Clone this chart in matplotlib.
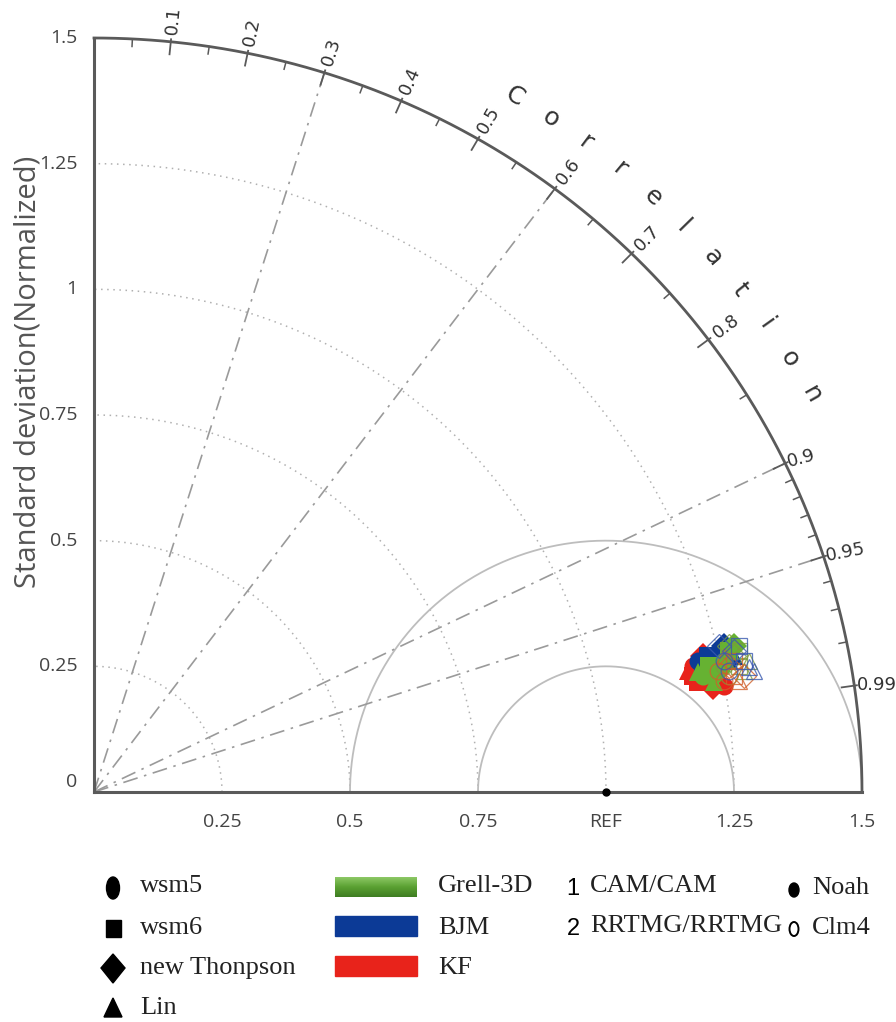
import numpy as np
import matplotlib
matplotlib.use("Agg")
import matplotlib.pyplot as plt
from matplotlib.patches import Ellipse, Rectangle, Polygon
from matplotlib.colors import LinearSegmentedColormap

# ---------------- data ----------------
std_grid = [0.25, 0.5, 0.75, 1.0, 1.25]
x_tick_vals = [0.25, 0.5, 0.75, 1.0, 1.25, 1.5]
x_tick_labels = ["0.25", "0.5", "0.75", "REF", "1.25", "1.5"]
y_tick_vals = [0, 0.25, 0.5, 0.75, 1.0, 1.25, 1.5]
y_tick_labels = ["0", "0.25", "0.5", "0.75", "1", "1.25", "1.5"]
corr_major = [0.1, 0.2, 0.3, 0.4, 0.5, 0.6, 0.7, 0.8, 0.9, 0.95, 0.99]
corr_major_labels = ["0.1", "0.2", "0.3", "0.4", "0.5", "0.6", "0.7", "0.8", "0.9", "0.95", "0.99"]
corr_minor = [0.05, 0.15, 0.25, 0.35, 0.45, 0.55, 0.65, 0.75, 0.85,
              0.91, 0.92, 0.93, 0.94, 0.96, 0.97, 0.98]
corr_lines = [0.3, 0.6, 0.9, 0.95]
rms_arcs = [0.25, 0.5]
ref_std = 1.0

microphysics = ["wsm5", "wsm6", "new Thonpson", "Lin"]
cumulus = ["Grell-3D", "BJM", "KF"]
radiation = ["CAM/CAM", "RRTMG/RRTMG"]
land = ["Noah", "Clm4"]

# each list: 4 microphysics x 2 radiation (index = rad*4 + mp)
std_grell_noah = [1.212, 1.226, 1.243, 1.230, 1.257, 1.271, 1.283, 1.204]
corr_grell_noah = [0.9818, 0.9790, 0.9812, 0.9839, 0.9784, 0.9755, 0.9741, 0.9800]
std_kf_noah = [1.196, 1.192, 1.220, 1.252, 1.248, 1.200, 1.228, 1.185]
corr_kf_noah = [0.9779, 0.9812, 0.9752, 0.9747, 0.9857, 0.9831, 0.9853, 0.9793]
std_bjm_noah = [1.208, 1.230, 1.250, 1.267, 1.238, 1.216, 1.264, 1.279]
corr_bjm_noah = [0.9766, 0.9756, 0.9764, 0.9787, 0.9777, 0.9787, 0.9733, 0.9775]
std_grell_clm4 = [1.261, 1.285, 1.279, 1.292, 1.255, 1.291, 1.273, 1.306]
corr_grell_clm4 = [0.9832, 0.9809, 0.9775, 0.9826, 0.9800, 0.9762, 0.9737, 0.9800]
std_kf_clm4 = [1.250, 1.271, 1.265, 1.279, 1.243, 1.277, 1.291, 1.259]
corr_kf_clm4 = [0.9844, 0.9835, 0.9803, 0.9851, 0.9812, 0.9790, 0.9840, 0.9768]
std_bjm_clm4 = [1.263, 1.296, 1.281, 1.304, 1.257, 1.293, 1.254, 1.312]
corr_bjm_clm4 = [0.9818, 0.9797, 0.9758, 0.9815, 0.9784, 0.9745, 0.9729, 0.9831]

# ---------------- styles ----------------
mp_markers = ["o", "s", "D", "^"]
c_green = "#66b232"
c_blue = "#0c3a96"
c_red = "#e8231b"
axis_col = "#5a5a5a"
grid_col = "#b0b0b0"

W, H = 896, 1022
fig = plt.figure(figsize=(W / 100, H / 100), dpi=100)
ax = fig.add_axes([94 / W, (H - 792) / H, 768 / W, 754 / H])
ax.set_xlim(0, 1.5)
ax.set_ylim(0, 1.5)
ax.axis("off")

th = np.linspace(0, np.pi / 2, 400)

# std dotted arcs
for r in std_grid:
    ax.plot(r * np.cos(th), r * np.sin(th), color=grid_col, lw=1.1,
            linestyle=(0, (1, 3)), zorder=1)

# RMS arcs around REF
for r in rms_arcs:
    t = np.linspace(0, np.pi, 400)
    ax.plot(ref_std + r * np.cos(t), r * np.sin(t), color="#bdbdbd", lw=1.3, zorder=1)

# correlation lines
for c in corr_lines:
    a = np.arccos(c)
    ax.plot([0, 1.5 * np.cos(a)], [0, 1.5 * np.sin(a)], color="#9a9a9a",
            lw=1.2, linestyle=(0, (9, 4, 1.5, 4)), zorder=1)

# outer arc and axes
ax.plot(1.5 * np.cos(th), 1.5 * np.sin(th), color=axis_col, lw=2.0, zorder=3, clip_on=False)
ax.plot([0, 0], [0, 1.5], color=axis_col, lw=2.2, zorder=3, clip_on=False)
ax.plot([0, 1.5], [0, 0], color=axis_col, lw=2.2, zorder=3, clip_on=False)

# correlation ticks
for c in corr_major:
    a = np.arccos(c)
    ax.plot([1.475 * np.cos(a), 1.505 * np.cos(a)], [1.475 * np.sin(a), 1.505 * np.sin(a)],
            color=axis_col, lw=1.3, zorder=3, clip_on=False)
for c in corr_minor:
    a = np.arccos(c)
    ax.plot([1.485 * np.cos(a), 1.5 * np.cos(a)], [1.485 * np.sin(a), 1.5 * np.sin(a)],
            color=axis_col, lw=1.1, zorder=3, clip_on=False)
for c, lab in zip(corr_major, corr_major_labels):
    a = np.arccos(c)
    rot = np.degrees(a)
    rr = 1.515
    if c >= 0.9:
        rot = rot * 0.6 if c < 0.99 else 0
        rr = 1.505
    ax.text(rr * np.cos(a), rr * np.sin(a), lab, rotation=rot,
            rotation_mode="anchor", ha="left", va="center", fontsize=13,
            color="#333333", family="DejaVu Sans", clip_on=False)

# "Correlation" along the arc
word = "Correlation"
angs = np.linspace(59.3, 29.4, len(word))
for ch, ang in zip(word, angs):
    a = np.radians(ang)
    ax.text(1.61 * np.cos(a), 1.61 * np.sin(a), ch, rotation=ang - 90,
            ha="center", va="center", fontsize=18, color="#333333",
            family="DejaVu Sans", clip_on=False)

# std tick labels
for v, lab in zip(x_tick_vals, x_tick_labels):
    ax.text(v, -0.06, lab, ha="center", va="center", fontsize=14,
            color="#444444", family="Open Sans", clip_on=False)
for v, lab in zip(y_tick_vals, y_tick_labels):
    yy = v + (0.02 if v == 0 else 0)
    ax.text(-0.032, yy, lab, ha="right", va="center", fontsize=14,
            color="#444444", family="Open Sans", clip_on=False)

ax.text(-0.128, 0.835, "Standard deviation(Normalized)", rotation=90, ha="center",
        va="center", fontsize=21, color="#555555", family="Open Sans", clip_on=False)

# REF point
ax.plot([ref_std], [0], "o", color="black", ms=5, zorder=5, clip_on=False)

# data points
def xy(std, corr):
    s = np.asarray(std)
    c = np.asarray(corr)
    return s * c, s * np.sin(np.arccos(c))

groups_filled = [(std_kf_noah, corr_kf_noah, c_red),
                 (std_bjm_noah, corr_bjm_noah, c_blue),
                 (std_grell_noah, corr_grell_noah, c_green)]
for std, corr, col in groups_filled:
    xs, ys = xy(std, corr)
    for i, (x0, y0) in enumerate(zip(xs, ys)):
        ax.plot(x0, y0, marker=mp_markers[i % 4], color=col, ms=13, mew=0, zorder=6)

groups_open = [(std_grell_clm4, corr_grell_clm4, "#7c9a3a"),
               (std_kf_clm4, corr_kf_clm4, "#d0602a"),
               (std_bjm_clm4, corr_bjm_clm4, "#3a5ab0")]
for std, corr, col in groups_open:
    xs, ys = xy(std, corr)
    for i, (x0, y0) in enumerate(zip(xs, ys)):
        ax.plot(x0, y0, marker=mp_markers[i % 4], mfc="none", mec=col, ms=12, mew=0.9,
                zorder=7, alpha=0.8)

# ---------------- legend (pixel coords) ----------------
lg = fig.add_axes([0, 0, 1, 1])
lg.axis("off")
lg.patch.set_alpha(0)

serif = "Liberation Serif"
fs_leg = 19

lg.add_patch(Ellipse((113, 888), 13, 22, color="black"))
lg.add_patch(Rectangle((106, 920), 15, 17, color="black"))
lg.add_patch(Polygon([(113, 954), (125, 968), (113, 983), (101, 968)], closed=True, color="black"))
lg.add_patch(Polygon([(104, 1017), (113, 998), (122, 1017)], closed=True, color="black"))
for yy, lab in zip([886, 928, 968, 1008], microphysics):
    lg.text(140, yy, lab, ha="left", va="center", fontsize=fs_leg, family=serif, color="#222222")

grad = np.linspace(0, 1, 50).reshape(-1, 1)
gcm = LinearSegmentedColormap.from_list("g", ["#8cc865", "#5aa032", "#3f7d22"])
lg.imshow(grad, cmap=gcm, extent=(335, 417, 897, 877), aspect="auto", zorder=2)
lg.add_patch(Rectangle((335, 916), 82, 20, color=c_blue))
lg.add_patch(Rectangle((335, 956), 82, 20, color=c_red))
for yy, lab in zip([886, 928, 968], cumulus):
    lg.text(438, yy, lab, ha="left", va="center", fontsize=fs_leg, family=serif, color="#222222")

for yy, num, lab in zip([886, 926], ["1", "2"], radiation):
    lg.text(573, yy + 3, num, ha="center", va="center", fontsize=17,
            family="Liberation Sans", color="black")
    lg.text(590, yy, lab, ha="left", va="center", fontsize=fs_leg, family=serif, color="#222222")

lg.add_patch(Ellipse((794, 890), 10, 14, color="black"))
lg.add_patch(Ellipse((794, 929), 9, 14, fill=False, ec="black", lw=1.4))
for yy, lab in zip([888, 928], land):
    lg.text(812, yy, lab, ha="left", va="center", fontsize=fs_leg, family=serif, color="#222222")

lg.set_xlim(0, W)
lg.set_ylim(H, 0)

fig.savefig("out.png", dpi=100)
